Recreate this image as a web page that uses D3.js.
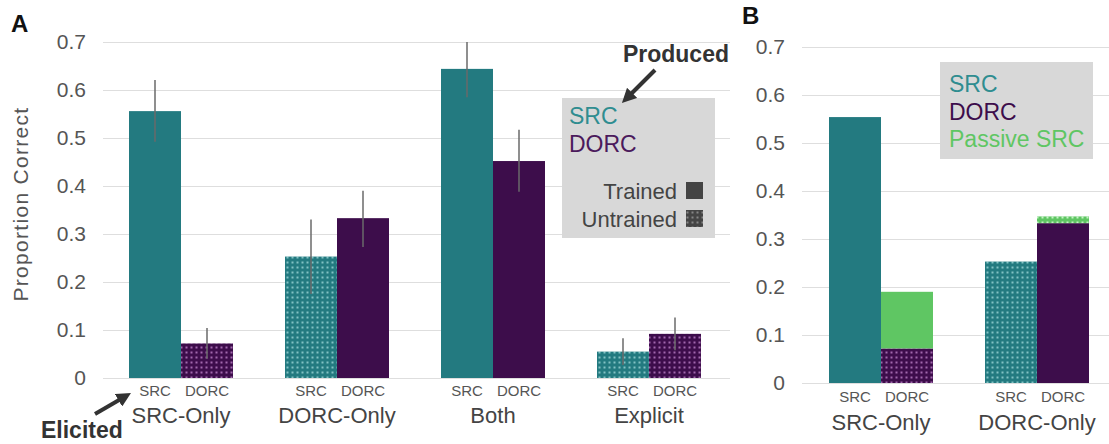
<!DOCTYPE html>
<html>
<head>
<meta charset="utf-8">
<script src="https://cdn.jsdelivr.net/npm/d3@7"></script>
<style>
  html, body { margin: 0; padding: 0; background: #fff; }
  svg { display: block; font-family: "Liberation Sans", Arial, Helvetica, sans-serif; }
</style>
</head>
<body>
<svg id="chart" width="1109" height="444"></svg>
<script>
// ---- Panel A: production accuracy by training condition ----
const groupsA = ["SRC-Only", "DORC-Only", "Both", "Explicit"];
const barKeys = ["SRC", "DORC"];
const srcA = [0.556, 0.253, 0.644, 0.055];
const dorcA = [0.072, 0.333, 0.452, 0.092];
const srcErrLowA = [0.492, 0.175, 0.585, 0.027];
const srcErrHighA = [0.621, 0.330, 0.700, 0.083];
const dorcErrLowA = [0.040, 0.273, 0.388, 0.058];
const dorcErrHighA = [0.104, 0.390, 0.517, 0.126];
const srcTrainedA = [true, false, true, false];
const dorcTrainedA = [false, true, true, false];

// ---- Panel B: DORC responses split into DORC and passive SRC ----
const groupsB = ["SRC-Only", "DORC-Only"];
const srcB = [0.554, 0.253];
const dorcB = [0.072, 0.333];
const passiveB = [0.118, 0.014];
const srcTrainedB = [true, false];
const dorcTrainedB = [false, true];
const passiveTrainedB = [true, false];

const yTicks = [0, 0.1, 0.2, 0.3, 0.4, 0.5, 0.6, 0.7];
const yTickLabels = ["0", "0.1", "0.2", "0.3", "0.4", "0.5", "0.6", "0.7"];

const colors = { SRC: "#237a80", DORC: "#3d0d4b", Passive: "#5fc663", grid: "#dedede" };

const svg = d3.select("#chart");
const defs = svg.append("defs");

// Dotted fill used for untrained conditions
function dotPattern(id, base, dot) {
  const p = defs.append("pattern").attr("id", id)
    .attr("patternUnits", "userSpaceOnUse").attr("width", 5).attr("height", 5);
  p.append("rect").attr("width", 5).attr("height", 5).attr("fill", base);
  p.append("rect").attr("x", 1.5).attr("y", 1.5).attr("width", 2).attr("height", 2)
    .attr("fill", dot);
}
dotPattern("dotSRC", colors.SRC, "rgba(170,225,225,0.7)");
dotPattern("dotDORC", colors.DORC, "rgba(215,150,225,0.65)");
dotPattern("dotPassive", colors.Passive, "rgba(220,255,220,0.8)");
dotPattern("dotGray", "#444", "rgba(150,150,150,0.8)");

function fillFor(key, trained) {
  if (key === "SRC") return trained ? colors.SRC : "url(#dotSRC)";
  if (key === "DORC") return trained ? colors.DORC : "url(#dotDORC)";
  return trained ? colors.Passive : "url(#dotPassive)";
}

// Shared y axis with gridlines
function drawYAxis(g, y, x0, x1, labelX) {
  const axis = d3.axisLeft(y).tickValues(yTicks)
    .tickFormat((d, i) => yTickLabels[i]).tickSize(-(x1 - x0)).tickPadding(labelX);
  const ax = g.append("g").attr("transform", `translate(${x0},0)`).call(axis);
  ax.select(".domain").remove();
  ax.selectAll(".tick line").attr("stroke", colors.grid).attr("stroke-width", 1.2);
  ax.selectAll(".tick text").attr("fill", "#555").attr("font-size", 21)
    .attr("font-family", "Liberation Sans, Arial, sans-serif");
}

function drawBarLabels(g, x, inner, groups, subY, groupY) {
  groups.forEach(gr => {
    barKeys.forEach(k => {
      g.append("text").attr("x", x(gr) + inner(k) + inner.bandwidth() / 2).attr("y", subY)
        .attr("text-anchor", "middle").attr("font-size", 15).attr("fill", "#555").text(k);
    });
    g.append("text").attr("x", x(gr) + x.bandwidth() / 2).attr("y", groupY)
      .attr("text-anchor", "middle").attr("font-size", 22).attr("fill", "#444").text(gr);
  });
}

function arrowMarker(id) {
  defs.append("marker").attr("id", id).attr("viewBox", "0 0 10 10")
    .attr("refX", 6).attr("refY", 5).attr("markerWidth", 3.6).attr("markerHeight", 3.6)
    .attr("orient", "auto")
    .append("path").attr("d", "M0,0 L10,5 L0,10 z").attr("fill", "#333");
}
arrowMarker("arrowHead");

// ================= Panel A =================
const gA = svg.append("g");
const yA = d3.scaleLinear().domain([0, 0.7]).range([378, 42]);
const xA = d3.scaleBand().domain(groupsA).range([103, 727]).paddingInner(1 / 3).paddingOuter(1 / 6);
const innerA = d3.scaleBand().domain(barKeys).range([0, xA.bandwidth()]);

drawYAxis(gA, yA, 103, 730, 17);

const rowsA = groupsA.map((gr, i) => ({
  group: gr,
  bars: [
    { key: "SRC", v: srcA[i], lo: srcErrLowA[i], hi: srcErrHighA[i], trained: srcTrainedA[i] },
    { key: "DORC", v: dorcA[i], lo: dorcErrLowA[i], hi: dorcErrHighA[i], trained: dorcTrainedA[i] }
  ]
}));

const grpA = gA.selectAll(".grpA").data(rowsA).join("g")
  .attr("transform", d => `translate(${xA(d.group)},0)`);
grpA.selectAll("rect").data(d => d.bars).join("rect")
  .attr("x", d => innerA(d.key)).attr("width", innerA.bandwidth())
  .attr("y", d => yA(d.v)).attr("height", d => yA(0) - yA(d.v))
  .attr("fill", d => fillFor(d.key, d.trained));
grpA.selectAll("line.err").data(d => d.bars).join("line").attr("class", "err")
  .attr("x1", d => innerA(d.key) + innerA.bandwidth() / 2)
  .attr("x2", d => innerA(d.key) + innerA.bandwidth() / 2)
  .attr("y1", d => yA(d.lo)).attr("y2", d => yA(d.hi))
  .attr("stroke", "#6a6a6a").attr("stroke-width", 1.5);

drawBarLabels(gA, xA, innerA, groupsA, 396, 423);

// Y axis title
gA.append("text").attr("transform", "translate(28,204) rotate(-90)")
  .attr("text-anchor", "middle").attr("font-size", 21).attr("fill", "#555")
  .attr("letter-spacing", 1.3).text("Proportion Correct");

// Panel letter
gA.append("text").attr("x", 11).attr("y", 32).attr("font-size", 24)
  .attr("font-weight", "bold").attr("fill", "#111").text("A");

// Legend A
const legA = gA.append("g");
legA.append("rect").attr("x", 562).attr("y", 98).attr("width", 153).attr("height", 140).attr("fill", "#d8d8d8");
legA.append("text").attr("x", 569).attr("y", 124).attr("font-size", 23).attr("fill", "#2f8d90").text("SRC");
legA.append("text").attr("x", 569).attr("y", 152).attr("font-size", 23).attr("fill", "#4b1a5c").text("DORC");
legA.append("text").attr("x", 677).attr("y", 199).attr("text-anchor", "end").attr("font-size", 22).attr("fill", "#444").text("Trained");
legA.append("text").attr("x", 677).attr("y", 227).attr("text-anchor", "end").attr("font-size", 22).attr("fill", "#444").text("Untrained");
legA.append("rect").attr("x", 686).attr("y", 182).attr("width", 17).attr("height", 17).attr("fill", "#444");
legA.append("rect").attr("x", 686).attr("y", 210).attr("width", 17).attr("height", 17).attr("fill", "url(#dotGray)");

// Annotations
gA.append("text").attr("x", 729).attr("y", 62).attr("text-anchor", "end").attr("font-size", 23)
  .attr("font-weight", "bold").attr("fill", "#333").text("Produced");
gA.append("line").attr("x1", 655).attr("y1", 70).attr("x2", 626).attr("y2", 99)
  .attr("stroke", "#333").attr("stroke-width", 4).attr("marker-end", "url(#arrowHead)");
gA.append("text").attr("x", 41).attr("y", 438).attr("font-size", 23)
  .attr("font-weight", "bold").attr("fill", "#333").text("Elicited");
gA.append("line").attr("x1", 95).attr("y1", 414).attr("x2", 126).attr("y2", 396)
  .attr("stroke", "#333").attr("stroke-width", 4).attr("marker-end", "url(#arrowHead)");

// ================= Panel B =================
const gB = svg.append("g");
const yB = d3.scaleLinear().domain([0, 0.7]).range([383, 47]);
const xB = d3.scaleBand().domain(groupsB).range([803, 1115]).paddingInner(1 / 3).paddingOuter(1 / 6);
const innerB = d3.scaleBand().domain(barKeys).range([0, xB.bandwidth()]);

drawYAxis(gB, yB, 802, 1109, 17);

const rowsB = groupsB.map((gr, i) => ({
  group: gr,
  segs: [
    { key: "SRC", col: "SRC", y0: 0, y1: srcB[i], trained: srcTrainedB[i] },
    { key: "DORC", col: "DORC", y0: 0, y1: dorcB[i], trained: dorcTrainedB[i] },
    { key: "DORC", col: "Passive", y0: dorcB[i], y1: dorcB[i] + passiveB[i], trained: passiveTrainedB[i] }
  ]
}));

const grpB = gB.selectAll(".grpB").data(rowsB).join("g")
  .attr("transform", d => `translate(${xB(d.group)},0)`);
grpB.selectAll("rect").data(d => d.segs).join("rect")
  .attr("x", d => innerB(d.key)).attr("width", innerB.bandwidth())
  .attr("y", d => yB(d.y1)).attr("height", d => yB(d.y0) - yB(d.y1))
  .attr("fill", d => fillFor(d.col, d.trained));

drawBarLabels(gB, xB, innerB, groupsB, 402, 430);

gB.append("text").attr("x", 742).attr("y", 24).attr("font-size", 24)
  .attr("font-weight", "bold").attr("fill", "#111").text("B");

const legB = gB.append("g");
legB.append("rect").attr("x", 940).attr("y", 62).attr("width", 153).attr("height", 97).attr("fill", "#d8d8d8");
legB.append("text").attr("x", 949).attr("y", 92).attr("font-size", 23).attr("fill", "#2f8d90").text("SRC");
legB.append("text").attr("x", 949).attr("y", 120).attr("font-size", 23).attr("fill", "#3d0d4b").text("DORC");
legB.append("text").attr("x", 949).attr("y", 147).attr("font-size", 23).attr("fill", "#5fc663").text("Passive SRC");
</script>
</body>
</html>
